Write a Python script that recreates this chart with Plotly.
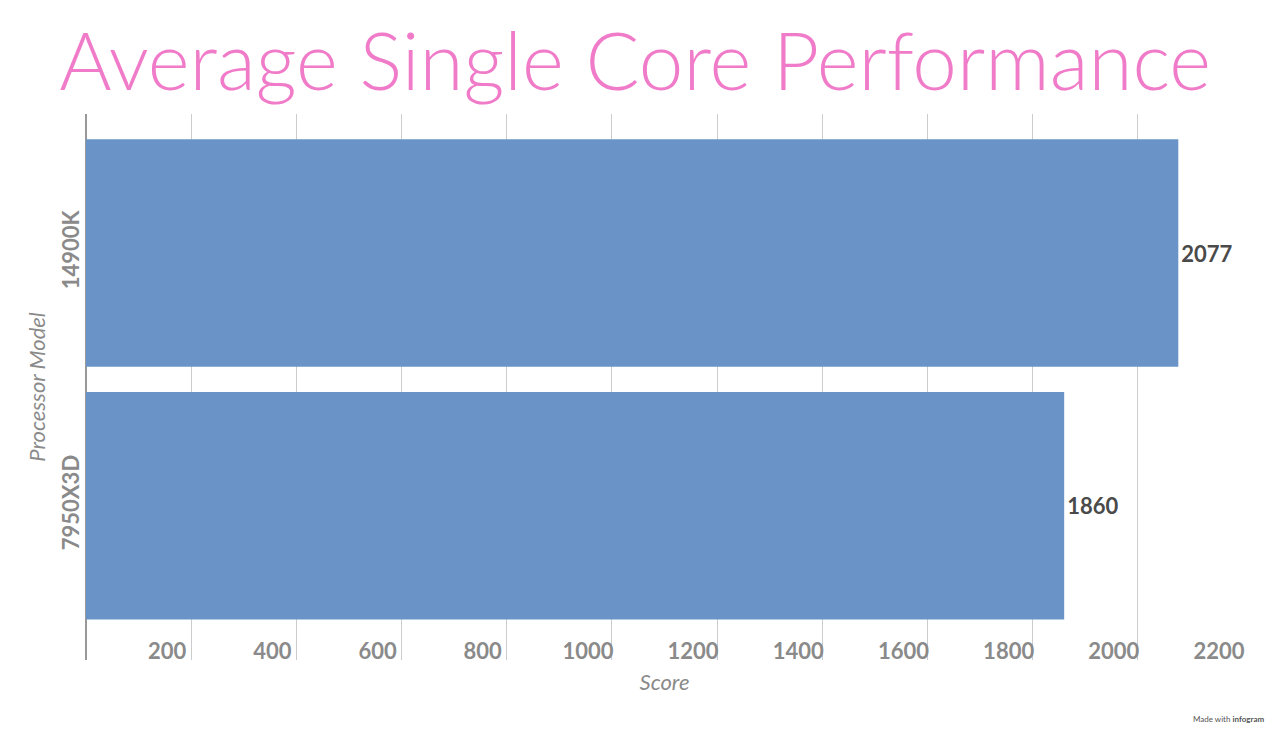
import plotly.graph_objects as go

processors = ["7950X3D", "14900K"]
scores = [1860, 2077]
tick_vals = [200, 400, 600, 800, 1000, 1200, 1400, 1600, 1800, 2000, 2200]

fig = go.Figure(go.Bar(
    y=processors, x=scores, orientation="h",
    marker=dict(color="#6a94c7", line=dict(width=0)),
    width=0.9,
    text=scores, textposition="outside", cliponaxis=False,
    textfont=dict(family="Lato", size=22, color="#4a4a4a", weight="bold"),
))

fig.update_layout(
    width=1280, height=751,
    paper_bgcolor="white", plot_bgcolor="white",
    margin=dict(l=78, r=45, t=106, b=99, autoexpand=False),
    title=dict(text="Average Single Core Performance", x=0.49, xanchor="center",
               y=0.965, yanchor="top",
               font=dict(family="Lato", size=80, color="#f07bc9", weight=300)),
    showlegend=False,
    xaxis=dict(range=[0, 2200], tickvals=tick_vals, showgrid=True, automargin=False,
               gridcolor="#cccccc", gridwidth=1, zeroline=True, zerolinecolor="#999999",
               ticks="", ticklabelposition="inside", ticklabelshift=-24, ticklabelstandoff=-6,
               ticklabeloverflow="allow",
               tickfont=dict(family="Lato", size=22, color="#8a8a8a", weight="bold"),
               title=dict(text="Score", standoff=12,
                          font=dict(family="Lato", size=22, color="#8a8a8a", style="italic"))),
    yaxis=dict(range=[-0.61, 1.55], tickangle=-90, showgrid=False, automargin=False,
               ticklabelstandoff=2,
               tickfont=dict(family="Lato", size=22, color="#8a8a8a", weight="bold"),
               title=dict(text="Processor Model", standoff=4,
                          font=dict(family="Lato", size=22, color="#8a8a8a", style="italic"))),
    annotations=[dict(text="Made with <b>infogram</b>", xref="paper", yref="paper",
                      x=1.02, y=-0.12, showarrow=False,
                      font=dict(family="Lato", size=8, color="#555555"))],
)

fig.write_html("out.html")
